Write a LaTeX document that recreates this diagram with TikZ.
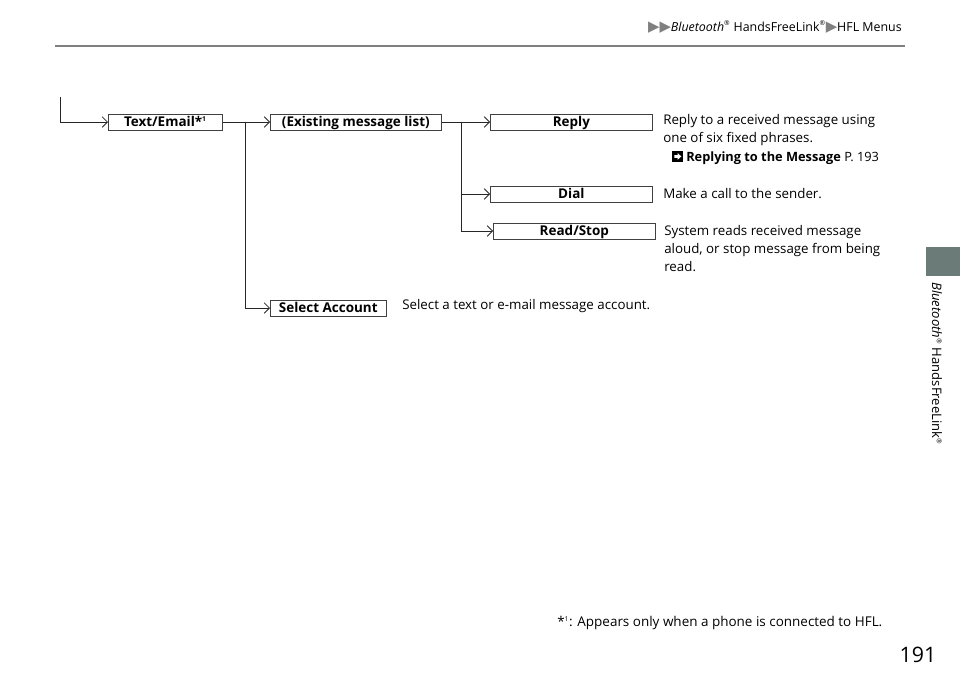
\documentclass[tikz,border=0pt]{standalone}
\usepackage{fontspec}
\setmainfont{Open Sans}
\newfontfamily\symfont{DejaVu Sans}
\usetikzlibrary{arrows.meta}
\definecolor{tabgray}{RGB}{107,123,120}

\newcommand*{\regmark}{\textsuperscript{\tiny\textregistered}}
\newcommand*{\tri}{{\symfont\color{gray}\scalebox{1.2}{▶}}}

\begin{document}
\begin{tikzpicture}
[
	x=0.75pt,y=-0.75pt,
	menubox/.style={draw=black!75,line width=0.5pt,inner sep=0pt,text height=8.4pt,text depth=2.4pt,minimum height=12pt,font=\fontsize{10.1}{11}\selectfont\bfseries,anchor=west},
	desc/.style={anchor=north west,inner sep=0pt,align=left,font=\fontsize{10}{13.5}\selectfont},
	conn/.style={line width=0.6pt,draw=black!85,-{Straight Barb[length=4pt,width=8pt]}}
]

	\useasboundingbox (0,0) rectangle (960,678);

	% page header
	\node[anchor=east,inner sep=0pt,font=\fontsize{9.3}{10}\selectfont] (head) at (902,27)
		{\tri\tri\textit{Bluetooth}\regmark{} HandsFreeLink\regmark\tri HFL Menus};
	\draw[gray,line width=1pt] (55,46) -- (905,46);

	% side tab
	\fill[tabgray] (926,247) rectangle (960,276);
	\node[rotate=-90,anchor=west,inner sep=0pt,font=\fontsize{9.8}{10}\selectfont] (side) at (937,282)
		{\textit{Bluetooth}\regmark{} HandsFreeLink\regmark};

	% menu boxes
	\node[menubox,minimum width=114*0.75pt] (text) at (108,122) {Text/Email*\textsuperscript{\tiny1}};
	\node[menubox,minimum width=171*0.75pt] (exist) at (270,122) {(Existing message list)};
	\node[menubox,minimum width=162*0.75pt] (reply) at (490,122) {Reply};
	\node[menubox,minimum width=162*0.75pt] (dial) at (490,194) {Dial};
	\node[menubox,minimum width=162*0.75pt] (readstop) at (493,231) {Read/Stop};
	\node[menubox,minimum width=116*0.75pt] (selacct) at (270,308) {Select Account};

	% connectors
	\coordinate (entry) at (60,97);
	\coordinate (j1) at (245,122);
	\coordinate (j2) at (461,122);
	\draw[conn] (entry) |- (text.west);
	\draw[conn] (text.east) -- (exist.west);
	\draw[conn] (j1) |- (selacct.west);
	\draw[conn] (exist.east) -- (reply.west);
	\draw[conn] (j2) |- (dial.west);
	\draw[conn] (j2) |- (readstop.west);

	% descriptions
	\node[desc] (replydesc) at (663,114) {Reply to a received message using\\one of six fixed phrases.};
	\node[anchor=west,inner sep=0pt,font=\fontsize{9.6}{10}\selectfont] (replyref) at (672,158)
		{\tikz[baseline=0pt]{\fill (0,0) rectangle (8pt,8pt);\fill[white] (1.5pt,3pt) -- (4pt,3pt) -- (4pt,1.5pt) -- (6.8pt,4pt) -- (4pt,6.5pt) -- (4pt,5pt) -- (1.5pt,5pt) -- cycle;}\ \textbf{Replying to the Message} P. 193};
	\node[desc,anchor=west] (dialdesc) at (663,194) {Make a call to the sender.};
	\node[desc] (readdesc) at (664,225) {System reads received message\\aloud, or stop message from being\\read.};
	\node[desc,anchor=west] (seldesc) at (402,306) {Select a text or e-mail message account.};

	% footnote and page number
	\node[anchor=west,inner sep=0pt,font=\fontsize{10.1}{12}\selectfont] (foot) at (557,623)
		{*\textsuperscript{\tiny1}: Appears only when a phone is connected to HFL.};
	\node[inner sep=0pt,font=\fontsize{16}{18}\selectfont] (page) at (918,655) {191};

\end{tikzpicture}
\end{document}
